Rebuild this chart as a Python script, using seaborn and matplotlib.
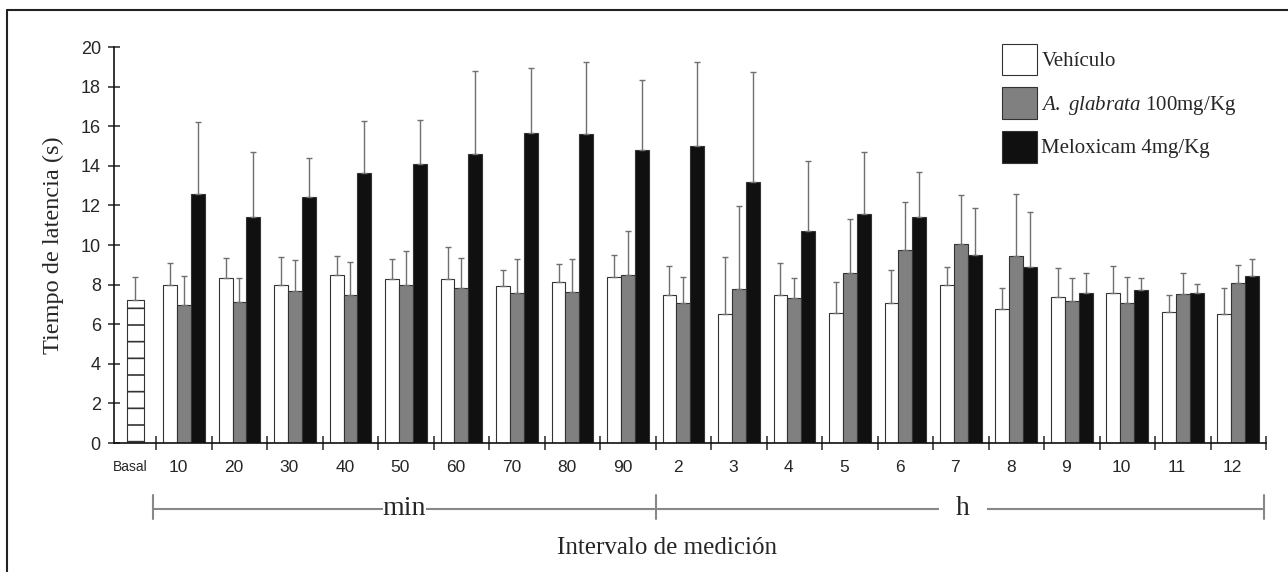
import numpy as np
import pandas as pd
import matplotlib.pyplot as plt
import seaborn as sns
from matplotlib.lines import Line2D

# --------- Datos ---------
intervalos = ["10", "20", "30", "40", "50", "60", "70", "80", "90",
              "2", "3", "4", "5", "6", "7", "8", "9", "10", "11", "12"]
claves = [f"{v} min" for v in intervalos[:9]] + [f"{v} h" for v in intervalos[9:]]

grupos = ["Vehículo", "A. glabrata", "Meloxicam"]
etiquetas = ["Vehículo", r"$\mathit{A.\ glabrata}$ 100mg/Kg", "Meloxicam 4mg/Kg"]
colores = ["#ffffff", "#808080", "#101010"]

basal_media = 7.22
basal_de = 1.15

vehiculo = [7.98, 8.32, 7.96, 8.48, 8.27, 8.27, 7.95, 8.13, 8.37, 7.46,
            6.50, 7.49, 6.55, 7.09, 7.96, 6.78, 7.39, 7.56, 6.63, 6.53]
vehiculo_de = [1.09, 1.01, 1.43, 0.98, 1.04, 1.65, 0.79, 0.93, 1.11, 1.47,
               2.90, 1.61, 1.56, 1.65, 0.95, 1.03, 1.43, 1.40, 0.84, 1.29]

glabrata = [6.97, 7.10, 7.68, 7.47, 7.96, 7.85, 7.56, 7.63, 8.48, 7.09,
            7.78, 7.32, 8.59, 9.75, 10.05, 9.44, 7.17, 7.09, 7.52, 8.06]
glabrata_de = [1.48, 1.22, 1.56, 1.69, 1.72, 1.50, 1.71, 1.66, 2.24, 1.31,
               4.19, 1.02, 2.71, 2.42, 2.48, 3.16, 1.17, 1.29, 1.07, 0.95]

meloxicam = [12.58, 11.43, 12.41, 13.65, 14.09, 14.61, 15.67, 15.60, 14.80, 15.02,
             13.18, 10.69, 11.57, 11.40, 9.49, 8.91, 7.56, 7.73, 7.56, 8.43]
meloxicam_de = [3.65, 3.25, 1.98, 2.60, 2.24, 4.19, 3.29, 3.62, 3.55, 4.22,
                5.57, 3.54, 3.14, 2.29, 2.36, 2.77, 1.01, 0.61, 0.49, 0.84]

df = pd.DataFrame({
    "intervalo": claves * 3,
    "grupo": [g for g in grupos for _ in claves],
    "tiempo": vehiculo + glabrata + meloxicam,
})
desviaciones = [vehiculo_de, glabrata_de, meloxicam_de]

# --------- Estilo ---------
sns.set_style("ticks")
plt.rcParams["font.family"] = ["Liberation Sans", "DejaVu Sans"]
plt.rcParams["mathtext.fontset"] = "custom"
plt.rcParams["mathtext.rm"] = "Liberation Serif"
plt.rcParams["mathtext.it"] = "Liberation Serif:italic"
plt.rcParams["hatch.linewidth"] = 1.2
serif = ["Liberation Serif", "DejaVu Serif"]

fig = plt.figure(figsize=(12.88, 5.72), dpi=100)
ax = fig.add_axes([114 / 1288, 129 / 572, 1152 / 1288, 396 / 572])

sns.barplot(data=df, x="intervalo", y="tiempo", hue="grupo", order=claves,
            hue_order=grupos, palette=colores, saturation=1, width=0.75, gap=0,
            errorbar=None, edgecolor="#333333", linewidth=0.8, ax=ax)

# error bars (solo hacia arriba)
for cont, de in zip(ax.containers, desviaciones):
    xs = [b.get_x() + b.get_width() / 2 for b in cont]
    ys = [b.get_height() for b in cont]
    ax.errorbar(xs, ys, yerr=[np.zeros(len(de)), de], fmt="none",
                ecolor="#707070", elinewidth=1, capsize=2.5, capthick=1, zorder=1)

# barra basal
ax.bar(-0.874, basal_media, width=0.29, color="white", edgecolor="#333333",
       hatch="-", linewidth=0.8)
ax.errorbar(-0.874, basal_media, yerr=[[0], [basal_de]], fmt="none",
            ecolor="#707070", elinewidth=1, capsize=2.5, capthick=1, zorder=1)

# ejes
ax.set_xlim(-1.261, 19.495)
ax.set_ylim(0, 20)
ax.set_yticks(range(0, 21, 2))
ax.tick_params(axis="y", direction="inout", length=9, width=1.1, labelsize=13, pad=5)

ax.set_xticks([-0.97] + list(np.arange(20) - 0.1))
ax.set_xticklabels(["Basal"] + intervalos)
ax.tick_params(axis="x", which="major", length=0, labelsize=12.5, pad=12)
ax.get_xticklabels()[0].set_fontsize(10)
ax.set_xticks(np.arange(-0.5, 20, 1), minor=True)
ax.tick_params(axis="x", which="minor", direction="inout", length=10, width=1.1)

for s in ["left", "bottom"]:
    ax.spines[s].set_linewidth(1.2)
    ax.spines[s].set_color("#111111")
sns.despine(ax=ax)

ax.set_xlabel("")
ax.set_ylabel("Tiempo de latencia (s)", family=serif, fontsize=17.5, labelpad=12)
fig.text(667 / 1288, 1 - 548 / 572, "Intervalo de medición", family=serif,
         fontsize=18, ha="center", va="center")

# corchetes min / h
tr = ax.get_xaxis_transform()
yb = -0.167
ax.plot([-0.55, 19.47], [yb, yb], color="#888888", lw=1.5, transform=tr, clip_on=False)
for xt in [-0.55, 8.5, 19.47]:
    ax.plot([xt, xt], [-0.131, -0.192], color="#888888", lw=1.5, transform=tr, clip_on=False)
ax.text(3.97, -0.182, "min", family=serif, fontsize=20, ha="center", va="baseline",
        transform=tr, bbox=dict(facecolor="white", edgecolor="none", pad=0))
ax.text(14.04, -0.182, "h", family=serif, fontsize=20, ha="center", va="baseline",
        transform=tr, bbox=dict(facecolor="white", edgecolor="none", pad=12))

# leyenda
handles, _ = ax.get_legend_handles_labels()
ax.legend(handles, etiquetas, loc="upper left", bbox_to_anchor=(0.771, 1.008),
          frameon=False, prop={"family": serif, "size": 15}, handlelength=1.68,
          handleheight=1.95, labelspacing=0.58, handletextpad=0.2,
          borderpad=0, borderaxespad=0)

# marco
fig.add_artist(Line2D([7 / 1288, 7 / 1288], [0, 1 - 10 / 572], color="#222222", lw=1.5))
fig.add_artist(Line2D([7 / 1288, 1], [1 - 10 / 572, 1 - 10 / 572], color="#222222", lw=1.5))

plt.savefig("out.png", dpi=100)
